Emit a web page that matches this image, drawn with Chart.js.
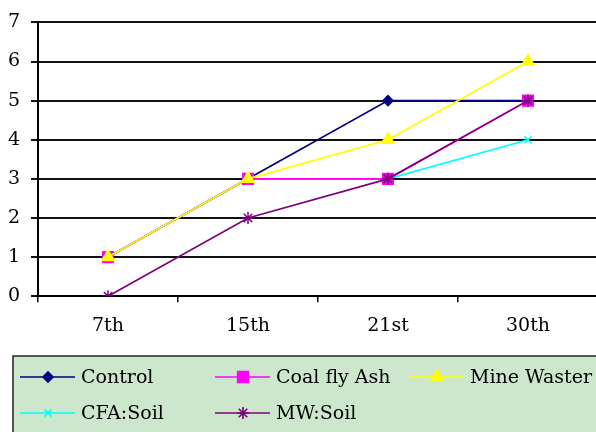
<!DOCTYPE html>
<html>
<head>
  <script src="https://cdn.jsdelivr.net/npm/chart.js"></script>
  <style>
    body { margin: 0; background: #fff; }
    #wrap { width: 596px; height: 432px; overflow: hidden; }
    #inner { width: 608px; height: 432px; }
  </style>
</head>
<body>
  <div id="wrap">
    <div id="inner">
      <canvas id="growthChart"></canvas>
    </div>
  </div>

  <script>
    // values
    const categories = ['7th', '15th', '21st', '30th'];
    const control = [1, 3, 5, 5];
    const coalFlyAsh = [1, 3, 3, 5];
    const mineWaster = [1, 3, 4, 6];
    const cfaSoil = [1, 3, 3, 4];
    const mwSoil = [0, 2, 3, 5];
    const yTicks = [0, 1, 2, 3, 4, 5, 6, 7];

    const font = { family: 'DejaVu Serif', size: 19 };

    // later series sit on top, like the original
    const datasets = [
      { label: 'Control', data: control, borderColor: '#000080', backgroundColor: '#000080', pointStyle: 'rectRot', pointRadius: 5, order: 4 },
      { label: 'Coal fly Ash', data: coalFlyAsh, borderColor: '#ff00ff', backgroundColor: '#ff00ff', pointStyle: 'rect', pointRadius: 7.5, order: 3 },
      { label: 'Mine Waster', data: mineWaster, borderColor: '#ffff00', backgroundColor: '#ffff00', pointStyle: 'triangle', pointRadius: 7, order: 2 },
      { label: 'CFA:Soil', data: cfaSoil, borderColor: '#00ffff', backgroundColor: '#00ffff', pointStyle: 'crossRot', pointRadius: 5, order: 5 },
      { label: 'MW:Soil', data: mwSoil, borderColor: '#800080', backgroundColor: '#800080', pointStyle: 'star', pointRadius: 6, order: 1 }
    ];
    datasets.forEach(d => {
      d.borderWidth = 1.7;
      d.pointBorderWidth = 1.5;
      d.tension = 0;
      d.fill = false;
    });

    // legend box at the bottom, three columns
    const boxLegend = {
      id: 'boxLegend',
      afterDraw(chart) {
        const ctx = chart.ctx;
        ctx.save();
        ctx.fillStyle = '#cde7cd';
        ctx.fillRect(13, 356, 620, 90);
        ctx.strokeStyle = '#222';
        ctx.lineWidth = 1.5;
        ctx.strokeRect(13, 356, 620, 90);

        const cols = [20, 215, 409];
        const rows = [377, 413];
        chart.data.datasets.forEach((ds, i) => {
          const x = cols[i % 3];
          const y = rows[Math.floor(i / 3)];
          ctx.strokeStyle = ds.borderColor;
          ctx.lineWidth = 1.7;
          ctx.beginPath();
          ctx.moveTo(x, y);
          ctx.lineTo(x + 55, y);
          ctx.stroke();
          ctx.fillStyle = ds.backgroundColor;
          Chart.helpers.drawPoint(ctx, {
            pointStyle: ds.pointStyle,
            radius: ds.pointRadius,
            rotation: 0,
            borderWidth: 1.5
          }, x + 28, y);
          ctx.fillStyle = '#000';
          ctx.font = font.size + 'px ' + font.family;
          ctx.textAlign = 'left';
          ctx.textBaseline = 'middle';
          ctx.fillText(ds.label, x + 61, y + 1);
        });
        ctx.restore();
      }
    };

    const ctx = document.getElementById('growthChart').getContext('2d');
    new Chart(ctx, {
      type: 'line',
      data: { labels: categories, datasets: datasets },
      options: {
        responsive: true,
        maintainAspectRatio: false,
        animation: false,
        layout: { padding: { top: 21, right: 10, bottom: 83, left: 0 } },
        plugins: { legend: { display: false }, tooltip: { enabled: false } },
        scales: {
          x: {
            offset: true,
            border: { color: '#000', width: 2 },
            grid: { offset: true, drawOnChartArea: false, color: '#000', lineWidth: 1.5, tickLength: 6 },
            ticks: { color: '#000', font: font, padding: 12, maxRotation: 0 }
          },
          y: {
            min: 0,
            max: 7,
            afterFit(scale) { scale.width = 38; },
            afterBuildTicks(scale) { scale.ticks = yTicks.map(v => ({ value: v })); },
            border: { color: '#000', width: 2 },
            grid: { color: '#111', lineWidth: 2, tickLength: 7 },
            ticks: { color: '#000', font: font, padding: 11 }
          }
        }
      },
      plugins: [boxLegend]
    });
  </script>
</body>
</html>
